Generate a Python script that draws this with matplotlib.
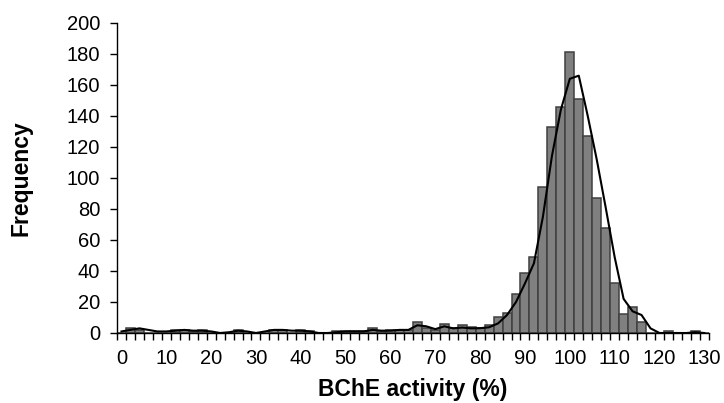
import matplotlib
matplotlib.use("Agg")
import matplotlib.pyplot as plt
import numpy as np

plt.rcParams['font.family'] = ['Liberation Sans', 'DejaVu Sans']

# BChE activity categories (%), bin width 2
categories = list(range(0, 131, 2))
# Histogram frequencies
frequency = [0, 3, 2, 0, 0, 0, 2, 2, 1, 2, 0, 0, 0, 2, 0, 0,
             0, 2, 2, 0, 2, 1, 0, 0, 1, 1, 1, 1, 3, 1, 2, 2,
             2, 7, 3, 2, 6, 3, 5, 4, 3, 5, 10, 13, 25, 39, 49, 94,
             133, 146, 181, 151, 127, 87, 68, 32, 12, 17, 7, 0, 0, 1, 0, 0,
             1, 0]
# Smoothed curve values
curve = [1, 2, 3, 2, 1, 1, 1.5, 2, 1.5, 1.5, 1, 0, 0.5, 1.5, 1, 0,
         1, 2, 2, 1.5, 1.5, 1, 0, 0, 0.5, 1, 1, 1, 2, 1.5, 1.5, 2,
         2, 5, 4.3, 2.5, 4.3, 3, 3.5, 3, 3.1, 3.7, 6.2, 11.6, 20, 32, 45, 75,
         114, 144, 164, 166, 140, 112, 81, 49, 22, 14, 11.6, 3, 0, 0, 0, 0,
         0.5, 0]
xtick_labels = [str(v) for v in range(0, 131, 10)]

fig = plt.figure(figsize=(7.24, 4.03), dpi=100)
ax = fig.add_axes([0.1616, 0.1737, 0.979 - 0.1616, 0.943 - 0.1737])

idx = np.arange(len(categories))
ax.bar(idx, frequency, width=1.0, color='#808080', edgecolor='#404040', linewidth=1.1, zorder=2)
ax.plot(idx, curve, color='black', linewidth=1.5, zorder=3)

ax.set_xlim(-0.5, len(categories) - 0.5)
ax.set_ylim(0, 200)
ax.set_yticks(range(0, 201, 20))
ax.tick_params(axis='y', direction='out', length=5, width=1, labelsize=14.5, pad=7)

# boundary tick marks
ax.set_xticks(np.arange(-0.5, len(categories), 1.0))
ax.set_xticklabels([])
ax.tick_params(axis='x', which='major', direction='out', length=5, width=1)
# labels at category centers
label_pos = [categories.index(int(v)) for v in xtick_labels]
ax.set_xticks(label_pos, minor=True)
ax.set_xticklabels(xtick_labels, minor=True)
ax.tick_params(axis='x', which='minor', length=0, labelsize=14.5, pad=11.5)

for s in ['top', 'right']:
    ax.spines[s].set_visible(False)
for s in ['left', 'bottom']:
    ax.spines[s].set_linewidth(1.0)
    ax.spines[s].set_color('black')

ax.set_xlabel('BChE activity (%)', fontsize=16.5, fontweight='bold', labelpad=7.5)
ax.set_ylabel('Frequency', fontsize=16.5, fontweight='bold', labelpad=25)

fig.savefig('out.png', dpi=100)
